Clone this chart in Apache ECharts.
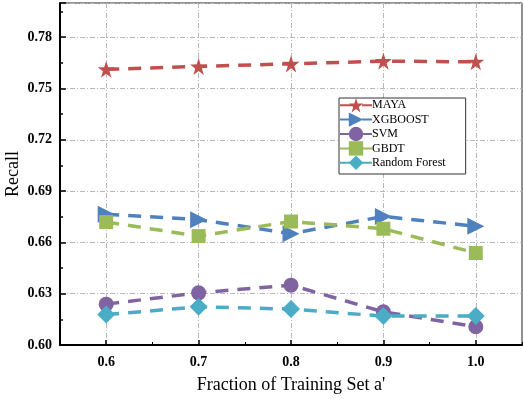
<!DOCTYPE html>
<html>
<head>
<meta charset="utf-8">
<script src="https://cdn.jsdelivr.net/npm/echarts@6/dist/echarts.min.js"></script>
<style>html,body{margin:0;padding:0;background:#fff}#c{width:523px;height:399px}</style>
</head>
<body>
<div id="c"></div>
<script>
var xLabels = ['0.6', '0.7', '0.8', '0.9', '1.0'];
var seriesNames = ['MAYA', 'XGBOOST', 'SVM', 'GBDT', 'Random Forest'];
var maya = [0.7612, 0.7629, 0.7644, 0.7660, 0.7656];
var xgboost = [0.6765, 0.6733, 0.6651, 0.6752, 0.6694];
var svm = [0.6239, 0.6305, 0.6350, 0.6194, 0.6107];
var gbdt = [0.6719, 0.6637, 0.6722, 0.6680, 0.6538];
var rf = [0.6178, 0.6223, 0.6210, 0.6169, 0.6169];
var colors = ['#c0504d', '#4f81bd', '#8064a2', '#9bbb59', '#4bacc6'];

var star = 'path://M50,0 L61.2,34.5 L97.6,34.5 L68.2,55.9 L79.4,90.5 L50,69.1 L20.6,90.5 L31.8,55.9 L2.4,34.5 L38.8,34.5 Z';
var FONT = 'Liberation Serif';
var gridLine = { show: true, lineStyle: { color: '#b8b8b8', width: 1, type: [5, 2, 1, 2] } };

function mk(name, data, color, symbol, size, rotate) {
  return {
    name: name, type: 'line', data: data, xAxisIndex: 0,
    symbol: symbol, symbolSize: size, symbolRotate: rotate || 0,
    lineStyle: { color: color, width: 3.5, type: [13, 9] },
    itemStyle: { color: color },
    emphasis: { disabled: true },
    z: 5
  };
}

var chart = echarts.init(document.getElementById('c'), null, { renderer: 'canvas' });
chart.setOption({
  animation: false,
  textStyle: { fontFamily: FONT },
  grid: { left: 60, right: 1, top: 3, bottom: 54, show: true, borderColor: '#222', borderWidth: 1,
          containLabel: false, outerBoundsMode: 'none' },
  legend: {
    orient: 'vertical', left: 339, top: 98,
    data: seriesNames,
    itemWidth: 32, itemHeight: 18, itemGap: 0,
    padding: [0, 20, 4, 0],
    borderColor: '#333', borderWidth: 1,
    backgroundColor: '#fff',
    textStyle: { fontFamily: FONT, fontSize: 12, color: '#000', padding: [0, 0, 0, -5] }
  },
  xAxis: [{
    type: 'category', data: xLabels, boundaryGap: true,
    axisLine: { lineStyle: { color: '#000', width: 2 } },
    axisTick: { show: true, inside: true, length: 3, lineStyle: { color: '#000', width: 1 } },
    axisLabel: { fontFamily: FONT, fontSize: 14, fontWeight: 'bold', color: '#000', margin: 10 },
    splitLine: { show: true, alignWithLabel: true, lineStyle: gridLine.lineStyle },
    name: "Fraction of Training Set a'", nameLocation: 'middle', nameGap: 31, nameMoveOverlap: false,
    nameTextStyle: { fontFamily: FONT, fontSize: 18, color: '#000' }
  }, {
    type: 'category', data: xLabels, boundaryGap: true, position: 'bottom',
    axisLine: { show: false },
    axisTick: { show: true, inside: true, alignWithLabel: true, length: 5, lineStyle: { color: '#000', width: 1.5 } },
    axisLabel: { show: false },
    splitLine: { show: false }
  }],
  yAxis: {
    type: 'value', min: 0.6, max: 0.8, interval: 0.03,
    axisLine: { show: true, lineStyle: { color: '#000', width: 2 } },
    axisTick: { show: true, inside: true, length: 6, lineStyle: { color: '#000', width: 1.5 } },
    minorTick: { show: true, splitNumber: 2, length: 3, lineStyle: { color: '#000', width: 1.5 } },
    axisLabel: {
      fontFamily: FONT, fontSize: 14, fontWeight: 'bold', color: '#000', margin: 8,
      formatter: function (v) { return v > 0.79 ? '' : v.toFixed(2); }
    },
    splitLine: gridLine,
    name: 'Recall', nameLocation: 'middle', nameGap: 38, nameRotate: 90, nameMoveOverlap: false,
    nameTextStyle: { fontFamily: FONT, fontSize: 18, color: '#000' }
  },
  series: [
    mk('MAYA', maya, colors[0], star, 17),
    mk('XGBOOST', xgboost, colors[1], 'triangle', 17, -90),
    mk('SVM', svm, colors[2], 'circle', 15),
    mk('GBDT', gbdt, colors[3], 'rect', 14),
    mk('Random Forest', rf, colors[4], 'diamond', 18)
  ]
});
</script>
</body>
</html>
